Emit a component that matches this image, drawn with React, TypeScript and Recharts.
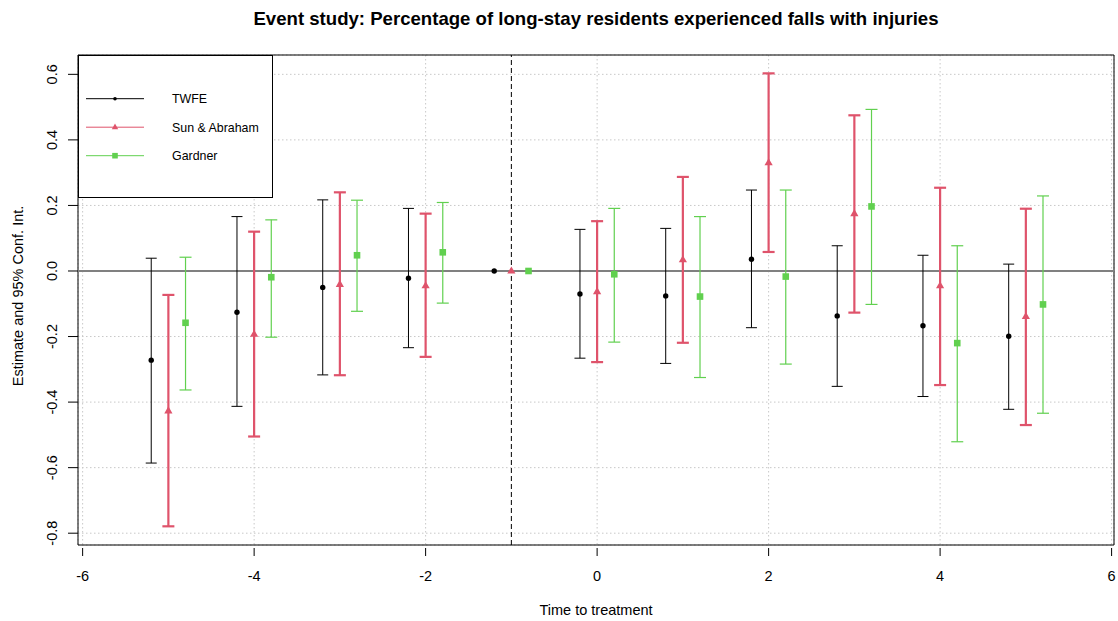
import React from 'react';
import {
  ComposedChart,
  Scatter,
  ErrorBar,
  XAxis,
  YAxis,
  CartesianGrid,
  ReferenceLine,
  ReferenceArea,
} from 'recharts';

// ---------------- data ----------------
const periods = [-5, -4, -3, -2, -1, 0, 1, 2, 3, 4, 5];

const twfeEst = [-0.272, -0.126, -0.05, -0.022, 0, -0.07, -0.076, 0.036, -0.137, -0.167, -0.199];
const twfeLo = [-0.586, -0.413, -0.317, -0.234, null, -0.266, -0.282, -0.173, -0.352, -0.383, -0.422];
const twfeHi = [0.039, 0.166, 0.217, 0.191, null, 0.127, 0.13, 0.247, 0.077, 0.048, 0.021];

const saEst = [-0.427, -0.193, -0.041, -0.045, 0, -0.063, 0.034, 0.33, 0.175, -0.045, -0.139];
const saLo = [-0.779, -0.505, -0.318, -0.262, null, -0.278, -0.219, 0.058, -0.127, -0.348, -0.47];
const saHi = [-0.073, 0.12, 0.24, 0.175, null, 0.152, 0.287, 0.603, 0.475, 0.254, 0.19];

const gardEst = [-0.158, -0.019, 0.048, 0.057, 0, -0.01, -0.078, -0.017, 0.197, -0.22, -0.102];
const gardLo = [-0.363, -0.202, -0.123, -0.098, null, -0.217, -0.325, -0.284, -0.102, -0.521, -0.434];
const gardHi = [0.042, 0.156, 0.216, 0.209, null, 0.191, 0.166, 0.247, 0.493, 0.077, 0.229];

const xTicks = [-6, -4, -2, 0, 2, 4, 6];
const yTicks = [-0.8, -0.6, -0.4, -0.2, 0, 0.2, 0.4, 0.6];

const seriesNames = ['TWFE', 'Sun & Abraham', 'Gardner'];
const TITLE = 'Event study: Percentage of long-stay residents experienced falls with injuries';
const X_LABEL = 'Time to treatment';
const Y_LABEL = 'Estimate and 95% Conf. Int.';
const REF_PERIOD = -1;

// ---------------- layout / style ----------------
const W = 1118;
const H = 621;
const X_DOMAIN: [number, number] = [-6.054, 6.028];
const Y_DOMAIN: [number, number] = [-0.836, 0.659];
const DODGE = 0.2;
const FONT = '"Liberation Sans", Arial, Helvetica, sans-serif';

const BLACK = '#000000';
const RED = '#DF536B';
const GREEN = '#61D04F';

type Row = { x: number; y: number; err: [number, number] | null };

function buildRows(est: number[], lo: (number | null)[], hi: (number | null)[], shift: number): Row[] {
  return periods.map((p, i) => ({
    x: p + shift,
    y: est[i],
    err: lo[i] == null || hi[i] == null ? null : [est[i] - (lo[i] as number), (hi[i] as number) - est[i]],
  }));
}

const twfeRows = buildRows(twfeEst, twfeLo, twfeHi, -DODGE);
const saRows = buildRows(saEst, saLo, saHi, 0);
const gardRows = buildRows(gardEst, gardLo, gardHi, DODGE);

const DotShape = (p: any) =>
  p.cx == null ? null : <circle cx={p.cx} cy={p.cy} r={2.7} fill={BLACK} />;
const TriShape = (p: any) =>
  p.cx == null ? null : (
    <polygon
      points={`${p.cx},${p.cy - 4.6} ${p.cx - 4.1},${p.cy + 2.5} ${p.cx + 4.1},${p.cy + 2.5}`}
      fill={RED}
    />
  );
const SqShape = (p: any) =>
  p.cx == null ? null : <rect x={p.cx - 3.3} y={p.cy - 3.3} width={6.6} height={6.6} fill={GREEN} />;

const XTick = (props: any) => {
  const { x, y, payload } = props;
  return (
    <g>
      <line x1={x} x2={x} y1={y + 3} y2={y + 11} stroke={BLACK} strokeWidth={1} />
      <text x={x} y={y + 36} textAnchor="middle" fontSize={14.5} fontFamily={FONT} fill={BLACK}>
        {String(payload.value)}
      </text>
    </g>
  );
};

const YTick = (props: any) => {
  const { x, y, payload } = props;
  const tx = x - 21;
  return (
    <g>
      <line x1={x - 10} x2={x} y1={y} y2={y} stroke={BLACK} strokeWidth={1} />
      <text
        x={tx}
        y={y}
        transform={`rotate(-90 ${tx} ${y})`}
        textAnchor="middle"
        fontSize={14.5}
        fontFamily={FONT}
        fill={BLACK}
      >
        {Number(payload.value).toFixed(1)}
      </text>
    </g>
  );
};

const legendItems = [
  { name: seriesNames[0], color: BLACK, width: 1, shape: 'dot' },
  { name: seriesNames[1], color: RED, width: 1, shape: 'tri' },
  { name: seriesNames[2], color: GREEN, width: 1, shape: 'sq' },
];

function LegendMarker({ shape, cx, cy, color }: { shape: string; cx: number; cy: number; color: string }) {
  if (shape === 'dot') return <circle cx={cx} cy={cy} r={1.8} fill={color} />;
  if (shape === 'tri')
    return <polygon points={`${cx},${cy - 3.6} ${cx - 3.2},${cy + 2} ${cx + 3.2},${cy + 2}`} fill={color} />;
  return <rect x={cx - 2.8} y={cy - 2.8} width={5.6} height={5.6} fill={color} />;
}

export default function App() {
  const plotLeft = 78;
  const plotTop = 55;
  const plotRight = 1114;
  const plotBottom = 545;
  const cx = (plotLeft + plotRight) / 2;
  const cy = (plotTop + plotBottom) / 2;
  const legX = plotLeft;
  const legY = plotTop;
  const legW = 194;
  const legH = 142;
  const rowGap = 28.5;
  return (
    <div style={{ position: 'absolute', left: 0, top: 0, width: W, height: H, background: '#fff' }}>
      <ComposedChart
        width={W}
        height={H}
        margin={{ top: plotTop, right: W - plotRight, bottom: 0, left: 0 }}
        style={{ background: '#fff' }}
      >
        <CartesianGrid stroke="#c8c8c8" strokeDasharray="1.5 2.5" strokeWidth={1} />
        <XAxis
          dataKey="x"
          type="number"
          domain={X_DOMAIN}
          allowDataOverflow
          ticks={xTicks}
          interval={0}
          height={H - plotBottom}
          axisLine={false}
          tickLine={false}
          tickSize={0}
          tickMargin={0}
          tick={<XTick />}
        />
        <YAxis
          type="number"
          domain={Y_DOMAIN}
          allowDataOverflow
          ticks={yTicks}
          interval={0}
          width={plotLeft}
          axisLine={false}
          tickLine={false}
          tickSize={0}
          tickMargin={0}
          tick={<YTick />}
        />
        <ReferenceLine y={0} stroke="#808080" strokeWidth={2} ifOverflow="hidden" />
        <ReferenceLine x={REF_PERIOD} stroke={BLACK} strokeWidth={1} strokeDasharray="5 3" />
        <ReferenceArea
          x1={X_DOMAIN[0]}
          x2={X_DOMAIN[1]}
          y1={Y_DOMAIN[0]}
          y2={Y_DOMAIN[1]}
          fill="none"
          fillOpacity={0}
          stroke={BLACK}
          strokeWidth={1}
          ifOverflow="visible"
        />
        <Scatter name={seriesNames[0]} data={twfeRows} dataKey="y" fill={BLACK} shape={DotShape} isAnimationActive={false}>
          <ErrorBar dataKey="err" direction="y" width={5.5} stroke={BLACK} strokeWidth={1} isAnimationActive={false} />
        </Scatter>
        <Scatter name={seriesNames[1]} data={saRows} dataKey="y" fill={RED} shape={TriShape} isAnimationActive={false}>
          <ErrorBar dataKey="err" direction="y" width={6} stroke={RED} strokeWidth={2.2} isAnimationActive={false} />
        </Scatter>
        <Scatter name={seriesNames[2]} data={gardRows} dataKey="y" fill={GREEN} shape={SqShape} isAnimationActive={false}>
          <ErrorBar dataKey="err" direction="y" width={6} stroke={GREEN} strokeWidth={1.2} isAnimationActive={false} />
        </Scatter>
      </ComposedChart>
      <svg
        width={W}
        height={H}
        style={{ position: 'absolute', left: 0, top: 0, pointerEvents: 'none' }}
        fontFamily={FONT}
      >
        <text x={cx} y={25} textAnchor="middle" fontSize={18.6} fontWeight="bold" fill={BLACK}>
          {TITLE}
        </text>
        <text x={cx} y={615} textAnchor="middle" fontSize={14.5} fill={BLACK}>
          {X_LABEL}
        </text>
        <text x={23} y={cy - 4} transform={`rotate(-90 23 ${cy - 4})`} textAnchor="middle" fontSize={14.5} fill={BLACK}>
          {Y_LABEL}
        </text>
        <g transform={`translate(${legX},${legY})`}>
          <rect x={0.5} y={0.5} width={legW} height={legH} fill="#fff" stroke={BLACK} strokeWidth={1} />
          {legendItems.map((it, i) => {
            const ry = 43.7 + i * rowGap;
            return (
              <g key={it.name}>
                <line x1={8} x2={66} y1={ry} y2={ry} stroke={it.color} strokeWidth={it.width} />
                <LegendMarker shape={it.shape} cx={37} cy={ry} color={it.color} />
                <text x={94} y={ry + 4.5} fontSize={12.4} fill={BLACK}>
                  {it.name}
                </text>
              </g>
            );
          })}
        </g>
      </svg>
    </div>
  );
}
